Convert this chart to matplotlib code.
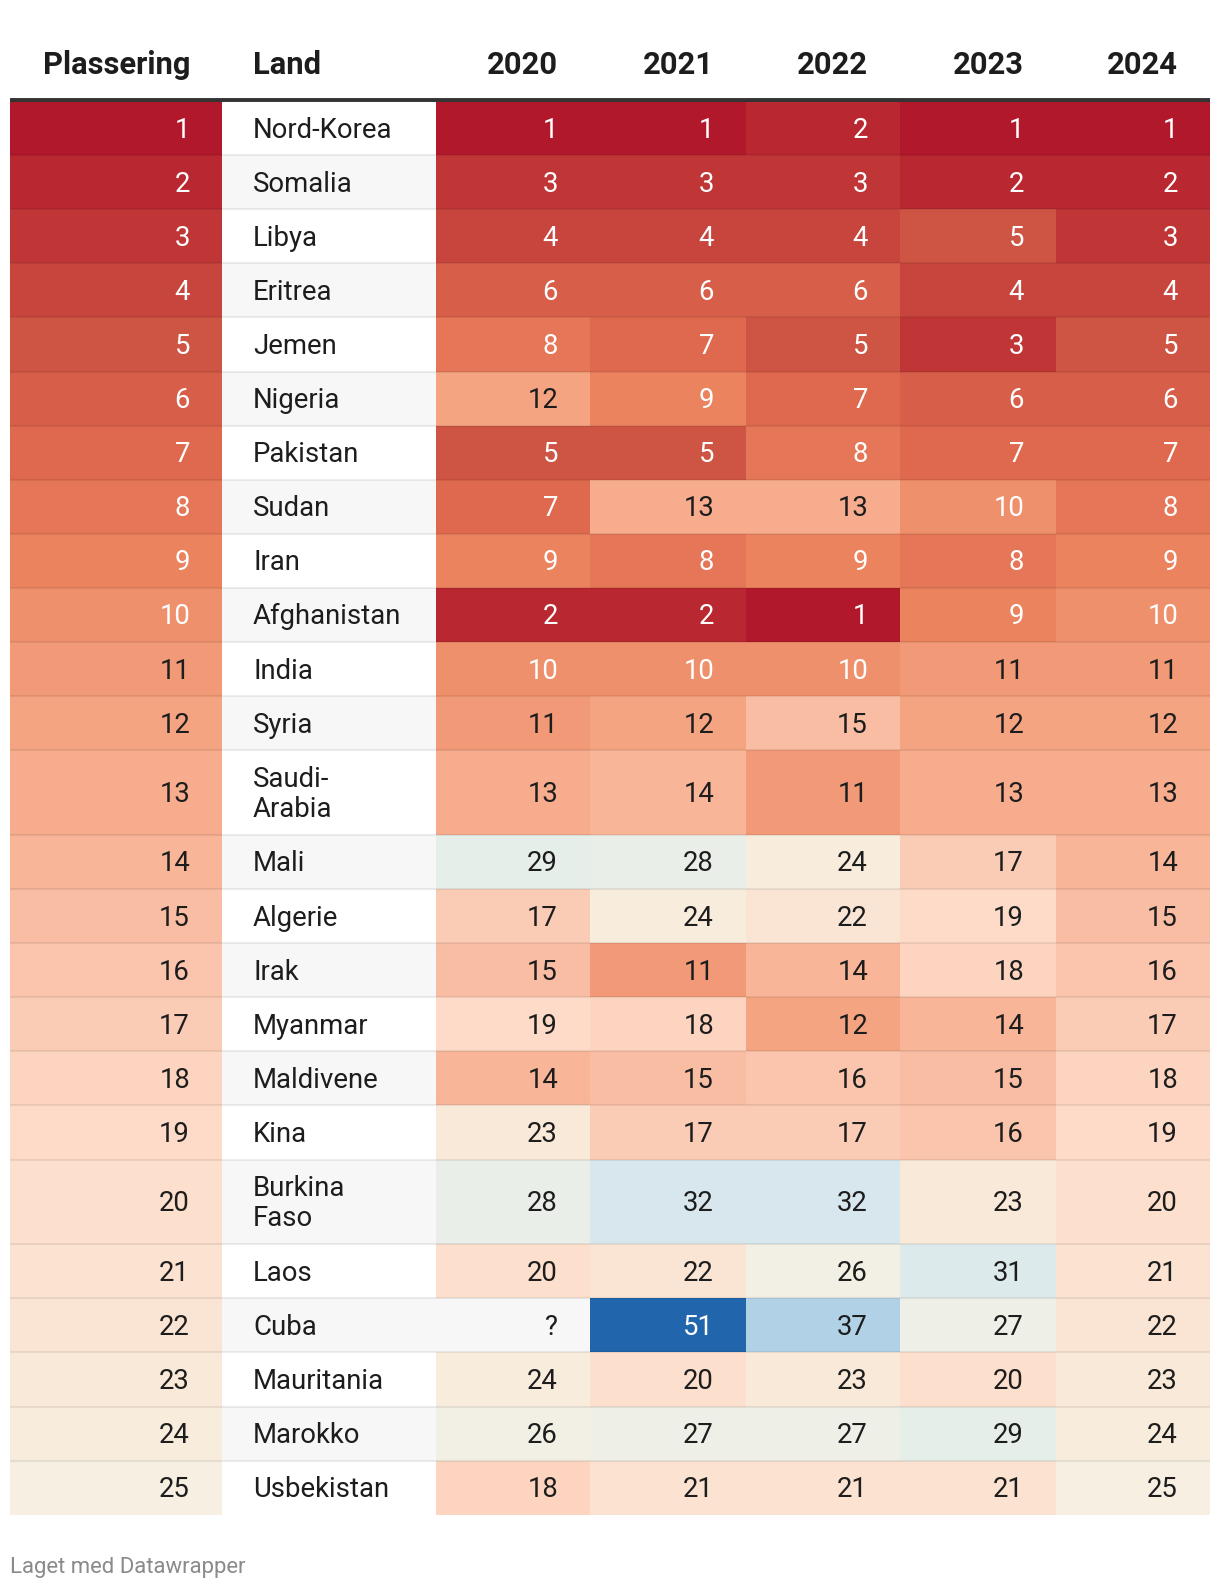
import numpy as np
import matplotlib.pyplot as plt
from matplotlib.colors import LinearSegmentedColormap, Normalize

# data
ranks = list(range(1, 26))
countries = ['Nord-Korea', 'Somalia', 'Libya', 'Eritrea', 'Jemen', 'Nigeria',
             'Pakistan', 'Sudan', 'Iran', 'Afghanistan', 'India', 'Syria',
             'Saudi-\nArabia', 'Mali', 'Algerie', 'Irak', 'Myanmar', 'Maldivene',
             'Kina', 'Burkina\nFaso', 'Laos', 'Cuba', 'Mauritania', 'Marokko',
             'Usbekistan']
years = ['2020', '2021', '2022', '2023', '2024']
y2020 = [1, 3, 4, 6, 8, 12, 5, 7, 9, 2, 10, 11, 13, 29, 17, 15, 19, 14, 23, 28, 20, None, 24, 26, 18]
y2021 = [1, 3, 4, 6, 7, 9, 5, 13, 8, 2, 10, 12, 14, 28, 24, 11, 18, 15, 17, 32, 22, 51, 20, 27, 21]
y2022 = [2, 3, 4, 6, 5, 7, 8, 13, 9, 1, 10, 15, 11, 24, 22, 14, 12, 16, 17, 32, 26, 37, 23, 27, 21]
y2023 = [1, 2, 5, 4, 3, 6, 7, 10, 8, 9, 11, 12, 13, 17, 19, 18, 14, 15, 16, 23, 31, 27, 20, 29, 21]
y2024 = list(range(1, 26))

# colour scale (value -> colour), diverging red-blue as in the original
stops = [(1, '#b2182b'), (5, '#cf5544'), (7, '#e06a50'), (9, '#ec8560'),
         (12, '#f5a482'), (15, '#f9bea4'), (19, '#fddbc8'),
         (25, '#f7f0e2'), (29, '#e6eeea'), (33, '#d3e5ef'), (37, '#b2d3e6'),
         (51, '#2166ac')]
vmin, vmax = 1, 51
cmap = LinearSegmentedColormap.from_list(
    'dw', [((v - vmin) / (vmax - vmin), c) for v, c in stops])
norm = Normalize(vmin, vmax)

FONT = ['Roboto', 'DejaVu Sans']
INK = '#1d1d1d'
W, H = 1220, 1590
fig = plt.figure(figsize=(W / 100, H / 100), dpi=100)
ax = fig.add_axes([0, 0, 1, 1])
ax.set_xlim(0, W)
ax.set_ylim(H, 0)
ax.axis('off')

# layout
col_x = [10, 222, 436, 590, 746, 900, 1056, 1210]
top = 101
row_h = [84.7 if '\n' in c else 54.1 for c in countries]
row_y = np.concatenate([[top], top + np.cumsum(row_h)])
pad = 32

# rank column
rank_vals = np.array(ranks, dtype=float).reshape(-1, 1)
ax.pcolormesh([col_x[0], col_x[1]], row_y, rank_vals, cmap=cmap, norm=norm)

# land column: alternating stripes
for i in range(len(countries)):
    ax.axhspan(row_y[i], row_y[i + 1], xmin=col_x[1] / W, xmax=col_x[2] / W,
               color='white' if i % 2 == 0 else '#f7f7f7', lw=0)

# year columns
vals = np.array([[np.nan if v is None else v for v in s]
                 for s in [y2020, y2021, y2022, y2023, y2024]], dtype=float).T
for i in range(len(countries)):
    if np.isnan(vals[i]).any():
        ax.axhspan(row_y[i], row_y[i + 1], xmin=col_x[2] / W, xmax=col_x[3] / W,
                   color='#f7f7f7', lw=0)
ax.pcolormesh(col_x[2:], row_y, np.ma.masked_invalid(vals), cmap=cmap, norm=norm)

# row separators
for y in row_y[1:-1]:
    ax.plot([col_x[0], col_x[-1]], [y, y], color='black', alpha=0.07, lw=1.5,
            solid_capstyle='butt')

# header
ax.plot([col_x[0], col_x[-1]], [99.5, 99.5], color='#333333', lw=2.8,
        solid_capstyle='butt')
hy = 65
hfs = 22.2
ax.text(col_x[1] - pad, hy, 'Plassering', ha='right', va='center',
        fontsize=hfs, fontweight='bold', color=INK, family=FONT)
ax.text(col_x[1] + 31, hy, 'Land', ha='left', va='center',
        fontsize=hfs, fontweight='bold', color=INK, family=FONT)
for j, yr in enumerate(years):
    ax.text(col_x[j + 3] - pad, hy, yr, ha='right', va='center',
            fontsize=hfs, fontweight='bold', color=INK, family=FONT)

# body text
fs = 19.8
for i in range(len(countries)):
    cy = (row_y[i] + row_y[i + 1]) / 2 + 2
    r = ranks[i]
    ax.text(col_x[1] - pad, cy, str(r), ha='right', va='center', fontsize=fs,
            color='white' if r <= 10 else INK, family=FONT)
    ax.text(col_x[1] + 31, cy, countries[i], ha='left', va='center', fontsize=fs,
            color=INK, family=FONT, linespacing=1.15)
    for j in range(len(years)):
        v = vals[i, j]
        txt = '?' if np.isnan(v) else str(int(v))
        dark = not np.isnan(v) and (v <= 10 or v >= 45)
        ax.text(col_x[j + 3] - pad, cy, txt, ha='right', va='center', fontsize=fs,
                color='white' if dark else INK, family=FONT)

ax.text(10, 1567, 'Laget med Datawrapper', ha='left', va='center', fontsize=15.9,
        color='#8a8a8a', family=FONT)

fig.savefig('out.png', dpi=100)
